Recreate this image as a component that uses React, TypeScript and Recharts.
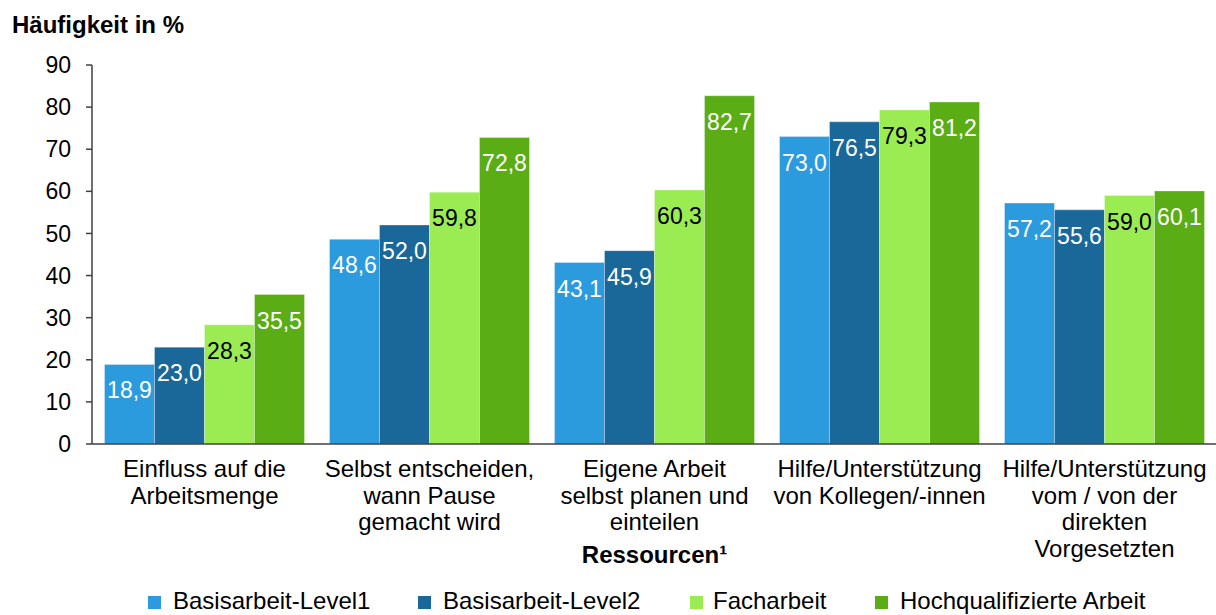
import { Bar, BarChart, XAxis, YAxis } from "recharts";

const FONT = '"Liberation Sans", Arial, sans-serif';

const categories = ["einfluss", "pause", "planen", "kollegen", "vorgesetzte"];
const categoryLines: string[][] = [
  ["Einfluss auf die", "Arbeitsmenge"],
  ["Selbst entscheiden,", "wann Pause", "gemacht wird"],
  ["Eigene Arbeit", "selbst planen und", "einteilen"],
  ["Hilfe/Unterstützung", "von Kollegen/-innen"],
  ["Hilfe/Unterstützung", "vom / von der", "direkten", "Vorgesetzten"],
];

const basis1 = [18.9, 48.6, 43.1, 73.0, 57.2];
const basis2 = [23.0, 52.0, 45.9, 76.5, 55.6];
const fach = [28.3, 59.8, 60.3, 79.3, 59.0];
const hoch = [35.5, 72.8, 82.7, 81.2, 60.1];

const yTicks = [0, 10, 20, 30, 40, 50, 60, 70, 80, 90];

const series = [
  { key: "basis1", name: "Basisarbeit-Level1", color: "#2c9bde", label: "#ffffff" },
  { key: "basis2", name: "Basisarbeit-Level2", color: "#1a6799", label: "#ffffff" },
  { key: "fach", name: "Facharbeit", color: "#9beb52", label: "#000000" },
  { key: "hoch", name: "Hochqualifizierte Arbeit", color: "#5bad16", label: "#ffffff" },
];

const legendPos = [
  { box: 148, text: 173 },
  { box: 418, text: 443 },
  { box: 690, text: 713 },
  { box: 875, text: 900 },
];

const data = categories.map((c, i) => ({
  cat: c,
  basis1: basis1[i],
  basis2: basis2[i],
  fach: fach[i],
  hoch: hoch[i],
}));

function fmt(v: number): string {
  return v.toFixed(1).replace(".", ",");
}

function makeLabel(color: string) {
  return (props: any) => {
    const { x, y, width, value } = props;
    return (
      <text
        x={Number(x) + Number(width) / 2}
        y={Number(y) + 26}
        textAnchor="middle"
        dominantBaseline="central"
        fill={color}
        fontSize={23}
        fontFamily={FONT}
      >
        {fmt(Number(value))}
      </text>
    );
  };
}

function CategoryTick(props: any) {
  const { x, y, payload } = props;
  const idx = categories.indexOf(payload.value);
  const lines = categoryLines[idx] ?? [];
  return (
    <text textAnchor="middle" fontSize={24} fontFamily={FONT} fill="#000">
      {lines.map((line, i) => (
        <tspan key={i} x={x} y={Number(y) + 33 + i * 26.7}>
          {line}
        </tspan>
      ))}
    </text>
  );
}

export default function App() {
  return (
    <div
      style={{
        position: "absolute",
        left: 0,
        top: 0,
        width: 1216,
        height: 615,
        overflow: "hidden",
        background: "#fff",
      }}
    >
      <BarChart
        width={1217}
        height={615}
        data={data}
        margin={{ top: 65, right: 0, left: 0, bottom: 0 }}
        barCategoryGap={12.5}
        barGap={0}
      >
        <XAxis
          dataKey="cat"
          height={171}
          tickSize={0}
          tickMargin={0}
          tickLine={false}
          axisLine={{ stroke: "#404040", strokeWidth: 1.5 }}
          tick={<CategoryTick />}
          interval={0}
          label={(p: any) => {
            const vb = p.viewBox || {};
            return (
              <text
                x={Number(vb.x) + Number(vb.width) / 2}
                y={563}
                textAnchor="middle"
                fontSize={24}
                fontWeight="bold"
                fontFamily={FONT}
                fill="#000"
              >
                Ressourcen¹
              </text>
            );
          }}
        />
        <YAxis
          width={92}
          domain={[0, 90]}
          ticks={yTicks}
          interval={0}
          tickSize={6}
          tickMargin={15}
          axisLine={{ stroke: "#404040", strokeWidth: 1.5 }}
          tickLine={{ stroke: "#404040", strokeWidth: 1.5 }}
          tick={{ fontSize: 23, fontFamily: FONT, fill: "#000" }}
        />
        {series.map((s) => (
          <Bar
            key={s.key}
            dataKey={s.key}
            name={s.name}
            fill={s.color}
            stroke="#ffffff"
            strokeOpacity={0.3}
            strokeWidth={1}
            isAnimationActive={false}
            label={makeLabel(s.label)}
          />
        ))}
      </BarChart>
      <svg
        width={1216}
        height={615}
        style={{ position: "absolute", left: 0, top: 0, pointerEvents: "none" }}
      >
        <text x={12} y={33} fontSize={24} fontWeight="bold" fontFamily={FONT} fill="#000">
          Häufigkeit in %
        </text>
        {series.map((s, i) => (
          <g key={s.key}>
            <rect x={legendPos[i].box} y={596} width={13} height={13} fill={s.color} />
            <text x={legendPos[i].text} y={609} fontSize={24} fontFamily={FONT} fill="#000">
              {s.name}
            </text>
          </g>
        ))}
      </svg>
    </div>
  );
}
